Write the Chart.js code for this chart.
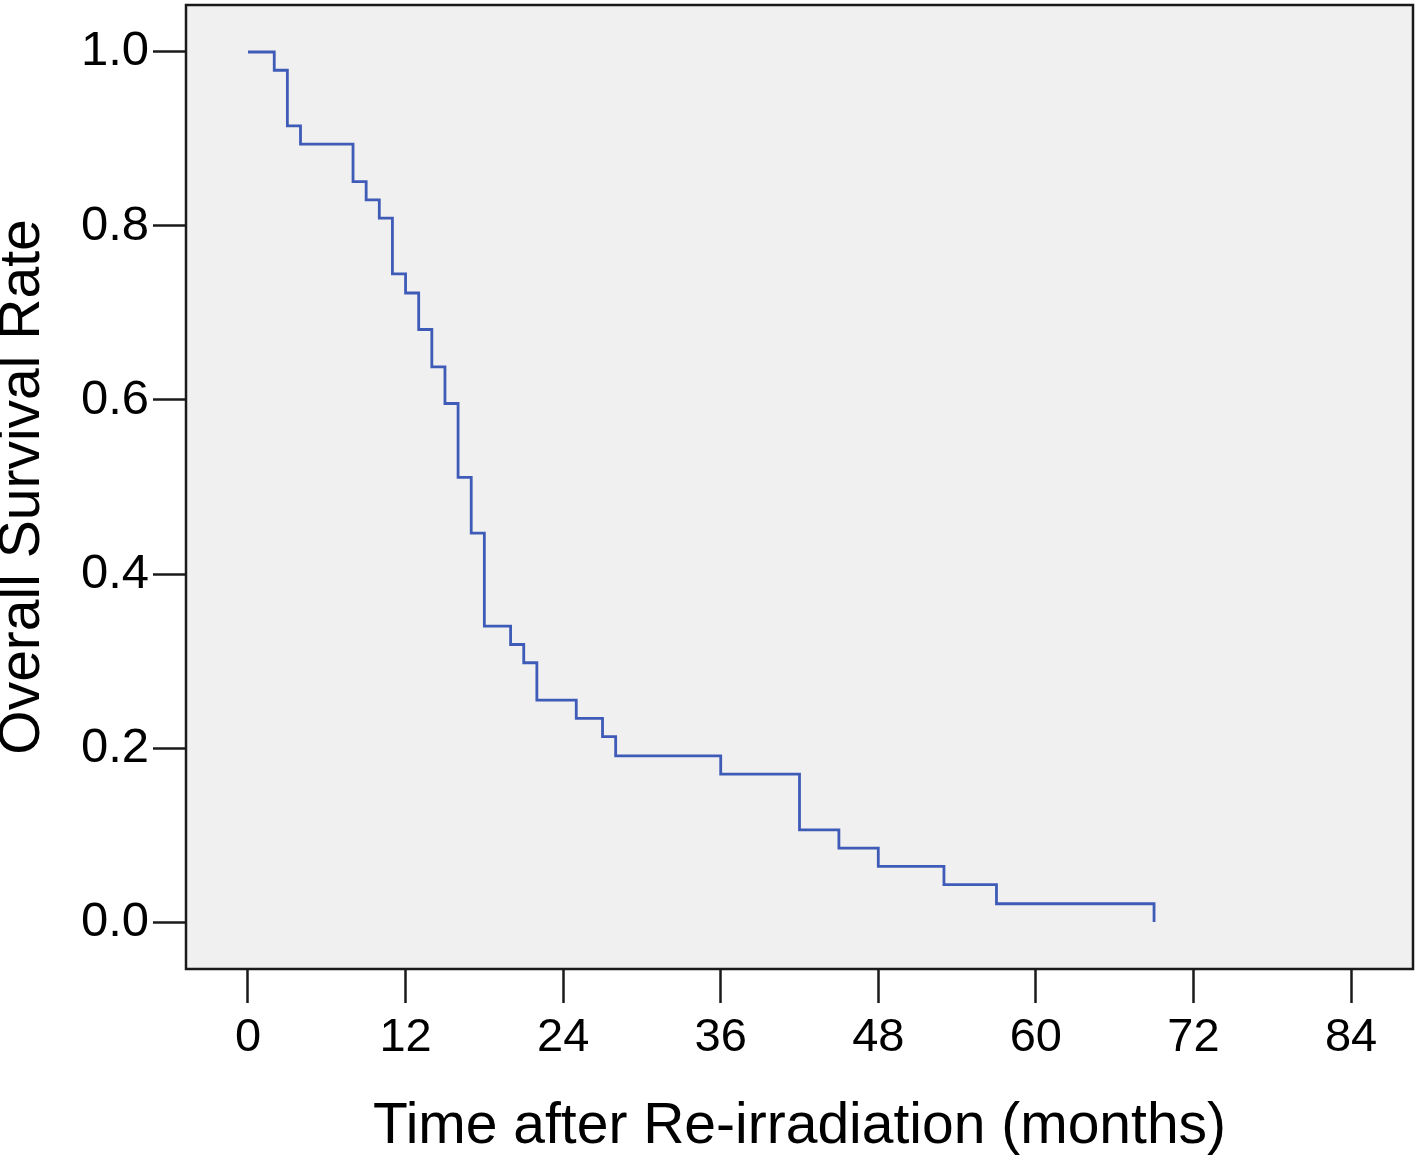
<!DOCTYPE html>
<html>
<head>
<meta charset="utf-8">
<script src="https://cdn.jsdelivr.net/npm/chart.js@4"></script>
<style>
  html, body { margin: 0; padding: 0; background: #ffffff; }
  #wrap { width: 1418px; height: 1161px; }
</style>
</head>
<body>
<div id="wrap"><canvas id="c" width="1418" height="1161"></canvas></div>
<script>
// Kaplan-Meier step points (months, survival)
const times    = [0, 2, 3, 4, 8, 9, 10, 11, 12, 13, 14, 15, 16, 17, 18, 20, 21, 22, 25, 27, 28, 36, 42, 45, 48, 53, 57, 69];
const survival = [1.000, 0.979, 0.915, 0.894, 0.851, 0.830, 0.809, 0.745, 0.723, 0.681, 0.638, 0.596, 0.511, 0.447, 0.340, 0.319, 0.298, 0.255, 0.234, 0.213, 0.191, 0.170, 0.106, 0.085, 0.064, 0.043, 0.021, 0.000];
const xTicks = [0, 12, 24, 36, 48, 60, 72, 84];
const yTicks = [0.0, 0.2, 0.4, 0.6, 0.8, 1.0];
const xTitle = 'Time after Re-irradiation (months)';
const yTitle = 'Overall Survival Rate';

const points = times.map((t, i) => ({ x: t, y: survival[i] }));

const frame = {
  id: 'frame',
  beforeDatasetsDraw(chart) {
    const { ctx, chartArea: a } = chart;
    ctx.save();
    ctx.fillStyle = '#f0f0f0';
    ctx.fillRect(a.left, a.top, a.right - a.left, a.bottom - a.top);
    ctx.restore();
  },
  afterDraw(chart) {
    const { ctx, chartArea: a } = chart;
    ctx.save();
    ctx.strokeStyle = '#1a1a1a';
    ctx.lineWidth = 2.5;
    ctx.strokeRect(a.left, a.top, a.right - a.left, a.bottom - a.top);
    ctx.restore();
  }
};

new Chart(document.getElementById('c'), {
  type: 'line',
  data: {
    datasets: [{
      data: points,
      stepped: 'before',
      borderColor: '#3f5bb8',
      borderWidth: 2.8,
      pointRadius: 0,
      fill: false,
      tension: 0
    }]
  },
  options: {
    responsive: false,
    animation: false,
    devicePixelRatio: 1,
    layout: { padding: { top: 5, right: 5, left: 0, bottom: 0 } },
    plugins: { legend: { display: false }, tooltip: { enabled: false } },
    scales: {
      x: {
        type: 'linear',
        min: -4.72,
        max: 88.72,
        afterFit(s) { s.height = 192; s.paddingLeft = 0; s.paddingRight = 0; },
        afterBuildTicks(s) { s.ticks = xTicks.map(v => ({ value: v })); },
        grid: { drawOnChartArea: false, drawTicks: true, tickLength: 34, tickColor: '#1a1a1a', tickWidth: 2.5 },
        border: { display: false },
        ticks: {
          color: '#000',
          padding: 7,
          maxRotation: 0,
          autoSkip: false,
          font: { family: '"Liberation Sans", Arial, sans-serif', size: 47 },
          callback: (v) => String(v)
        },
        title: {
          display: true,
          text: xTitle,
          color: '#000',
          font: { family: '"Liberation Sans", Arial, sans-serif', size: 57 },
          padding: { top: 0, bottom: 0 }
        }
      },
      y: {
        type: 'linear',
        min: -0.054,
        max: 1.054,
        afterFit(s) { s.width = 186; s.paddingTop = 0; s.paddingBottom = 0; },
        afterBuildTicks(s) { s.ticks = yTicks.map(v => ({ value: v })); },
        grid: { drawOnChartArea: false, drawTicks: true, tickLength: 33, tickColor: '#1a1a1a', tickWidth: 2.5 },
        border: { display: false },
        ticks: {
          color: '#000',
          padding: 4,
          autoSkip: false,
          font: { family: '"Liberation Sans", Arial, sans-serif', size: 49 },
          callback: (v) => Number(v).toFixed(1)
        },
        title: {
          display: true,
          text: yTitle,
          color: '#000',
          font: { family: '"Liberation Sans", Arial, sans-serif', size: 57, lineHeight: 0.8 },
          padding: { top: 0, bottom: 0 }
        }
      }
    }
  },
  plugins: [frame]
});
</script>
</body>
</html>
